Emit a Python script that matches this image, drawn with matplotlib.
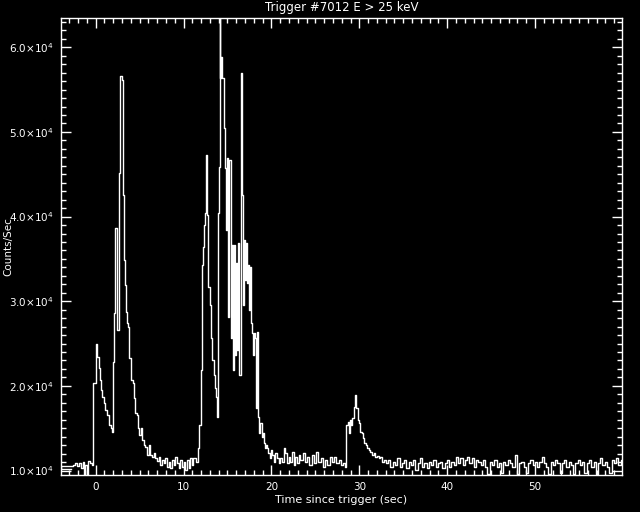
import matplotlib
matplotlib.use("Agg")
import matplotlib.pyplot as plt
from matplotlib.ticker import MultipleLocator, FuncFormatter

# ---- data: step left edges (s) and count rates (counts/s) ----
pre_t = [-2.85, -4.0, -2.54, -2.3, -2.1, -1.9, -1.7, -1.5, -1.35, -1.2, -1.0, -0.85, -0.65, -0.45]
pre_v = [10210, 10530, 10700, 10850, 10500, 10900, 10300, 10950, 9470, 10600, 9600, 11100, 10900, 10700]

p1_t = [-0.26, 0.05, 0.20, 0.39, 0.50, 0.62, 0.73, 0.92, 1.11, 1.30, 1.49, 1.72, 1.83, 1.94,
        2.06, 2.25, 2.40, 2.48, 2.63, 2.70, 2.82, 3.01, 3.08, 3.20, 3.31, 3.43, 3.61, 3.73,
        3.84, 3.99, 4.07, 4.22, 4.37, 4.49, 4.75, 4.87, 4.98, 5.13, 5.32, 5.44, 5.63, 5.82,
        6.01, 6.20, 6.39, 6.58, 6.77, 6.96, 7.15, 7.34]
p1_v = [20300, 24950, 23450, 22070, 20690, 19510, 18720, 17940, 17150, 16560, 15380, 14980, 14590, 22860,
        28570, 38610, 30930, 26600, 33100, 45110, 56610, 56140, 42550, 34870, 31920, 28770, 27390, 26990,
        23260, 22860, 20690, 20300, 18530, 16760, 16560, 14980, 14190, 14980, 13600, 13010, 12810, 11830,
        13010, 11830, 11630, 12030, 11440, 11160, 11630, 10650]

gap1_t = [7.53, 7.72, 7.91, 8.10, 8.29, 8.48, 8.67, 8.86, 9.05, 9.24, 9.43, 9.62, 9.81, 10.00,
          10.19, 10.38, 10.57, 10.76, 10.95, 11.13, 11.44]
gap1_v = [11240, 10850, 11440, 10460, 11040, 10260, 11240, 10650, 11630, 10850, 10260, 11240, 10460, 11040,
          10060, 11240, 10260, 11440, 10650, 11440, 11050]

p2_t = [11.59, 11.78, 11.93, 12.08, 12.24, 12.35, 12.46, 12.54, 12.65, 12.77, 12.96, 13.11, 13.22, 13.41,
        13.57, 13.68, 13.79, 13.91, 14.06, 14.10, 14.18, 14.25, 14.40, 14.56, 14.67, 14.79, 14.90, 15.05,
        15.20, 15.35, 15.46, 15.58, 15.69, 15.84, 15.96, 16.07, 16.18, 16.33, 16.49, 16.60, 16.71, 16.83,
        16.94, 17.06, 17.17, 17.29, 17.44, 17.55, 17.66, 17.82, 17.93, 18.05, 18.16, 18.27, 18.39, 18.50,
        18.61, 18.73, 18.88, 18.99, 19.11, 19.22, 19.33, 19.49, 19.64, 19.79, 19.94, 20.09, 20.25, 20.44,
        20.63, 20.82, 21.01, 21.20, 21.39, 21.58, 21.77, 21.96, 22.15, 22.34, 22.53, 22.72, 22.91, 23.10]
p2_v = [12620, 15380, 21870, 34280, 36440, 39000, 40390, 47280, 40190, 31720, 29550, 25620, 23060, 21280,
        19710, 18720, 16360, 40390, 45900, 63500, 56340, 58890, 56340, 50430, 45700, 38420, 46880, 28170,
        46720, 25620, 36640, 21870, 36640, 23650, 34480, 24240, 36840, 21280, 56930, 42550, 29550, 37230,
        32510, 36840, 32110, 34280, 28960, 34080, 27390, 26210, 23650, 26210, 25620, 17350, 26400, 16360,
        14390, 15570, 13990, 14390, 13210, 12620, 13010, 12620, 12030, 11440, 12420, 11830, 11040, 12030,
        11440, 10850, 11440, 11040, 12620, 12030, 10850, 11630, 11040, 12220, 10650, 11630, 10850, 11830]

gap2_t = [23.29, 23.55, 23.80, 24.06, 24.32, 24.57, 24.83, 25.09, 25.34, 25.60, 25.86, 26.11, 26.37,
          26.62, 26.88, 27.14, 27.39, 27.65, 27.91, 28.16, 28.40]
gap2_v = [11240, 12030, 11040, 11630, 10650, 11830, 10850, 12220, 11040, 11440, 10460, 11240, 10650,
          11630, 11040, 11630, 10850, 11240, 10650, 10850, 10460]

p3_t = [28.53, 28.68, 28.83, 28.98, 29.10, 29.21, 29.36, 29.51, 29.67, 29.82, 29.97, 30.12, 30.27, 30.43,
        30.58, 30.73, 30.88, 31.07, 31.26, 31.45, 31.64, 31.83, 32.02, 32.21, 32.40, 32.59, 32.78]
p3_v = [15380, 15770, 14390, 15970, 15380, 16160, 17540, 18920, 17350, 15970, 15570, 14590, 14390, 13800,
        13210, 13010, 12620, 12420, 12220, 11830, 12030, 11560, 11720, 11440, 11630, 11040, 11240]

tail_t = [33.04, 33.30, 33.55, 33.81, 34.07, 34.32, 34.58, 34.84, 35.09, 35.35, 35.61, 35.86, 36.12, 36.38,
          36.63, 36.89, 37.15, 37.40, 37.66, 37.92, 38.17, 38.43, 38.69, 38.94, 39.20, 39.46, 39.71, 39.97,
          40.23, 40.48, 40.74, 41.00, 41.25, 41.51, 41.77, 42.02, 42.28, 42.54, 42.79, 43.05, 43.31, 43.56,
          43.82, 44.08, 44.33, 44.59, 44.85, 45.10, 45.36, 45.62, 45.87, 46.13, 46.39, 46.64, 46.90, 47.16,
          47.41, 47.67, 47.93, 48.18, 48.44, 48.70, 48.95, 49.21, 49.47, 49.72, 49.98, 50.24, 50.50, 50.75,
          51.01, 51.27, 51.52, 51.78, 52.04, 52.29, 52.55, 52.81, 53.06, 53.32, 53.58, 53.83, 54.09, 54.35,
          54.60, 54.86, 55.12, 55.37, 55.63, 55.89, 56.14, 56.40, 56.66, 56.91, 57.17, 57.43, 57.68, 57.94,
          58.20, 58.45, 58.71, 58.97, 59.22, 59.48, 59.74, 60.00]
tail_v = [10850, 11240, 10460, 11040, 10650, 11440, 10460, 10850, 11240, 10260, 11040, 10650, 11240, 10060,
          10850, 11440, 10460, 10850, 10260, 11040, 10650, 11240, 10460, 10850, 11040, 10260, 10850, 11240,
          10460, 11040, 10650, 11630, 10850, 11440, 10650, 11240, 11630, 10850, 11440, 10460, 11240, 11040,
          10650, 11240, 10460, 9600, 11040, 10650, 11240, 10460, 10850, 9700, 11040, 10650, 11240, 10850,
          10460, 11830, 9600, 10850, 11040, 10460, 9650, 10850, 11240, 10650, 11040, 10460, 11040, 11630,
          10850, 10460, 9600, 11040, 10650, 11240, 10850, 9700, 10850, 11240, 10460, 11040, 10650, 9600,
          10850, 11240, 10650, 11040, 9650, 10850, 11240, 10460, 11040, 9600, 10850, 11440, 10650, 11040,
          10460, 9700, 11240, 10850, 11440, 10650, 11240, 11240]

t = pre_t + p1_t + gap1_t + p2_t + gap2_t + p3_t + tail_t
v = pre_v + p1_v + gap1_v + p2_v + gap2_v + p3_v + tail_v

title = "Trigger #7012 E > 25 keV"
xlabel = "Time since trigger (sec)"
ylabel = "Counts/Sec"
xlim = (-3.95, 59.9)

# ---- figure ----
fig = plt.figure(figsize=(6.4, 5.12), dpi=100, facecolor="black")
ax = fig.add_axes([61 / 640, 1 - 475 / 512, (622 - 61) / 640, (475 - 17.7) / 512])
ax.set_facecolor("black")

ax.plot(t, v, drawstyle="steps-post", color="white", lw=1.0)

ax.set_xlim(*xlim)
ax.set_ylim(min(v), max(v))

ax.xaxis.set_major_locator(MultipleLocator(10))
ax.xaxis.set_minor_locator(MultipleLocator(1))
ax.yaxis.set_major_locator(MultipleLocator(10000))
ax.yaxis.set_minor_locator(MultipleLocator(1000))
ax.yaxis.set_major_formatter(FuncFormatter(lambda val, pos: f"{val/1e4:.1f}$\\times$10$^{{4}}$"))

for side in ax.spines.values():
    side.set_color("white")
    side.set_linewidth(1.0)

ax.tick_params(which="both", direction="in", colors="white", top=True, right=True,
               labelsize=7.5, width=1.0)
ax.tick_params(which="major", length=7.5, pad=5)
ax.tick_params(which="minor", length=3.3)

ax.set_title(title, color="white", fontsize=8.5, pad=5)
ax.set_xlabel(xlabel, color="white", fontsize=8, labelpad=2)
ax.set_ylabel(ylabel, color="white", fontsize=7.5)
ax.yaxis.set_label_coords(-(61 - 13) / 561, 0.5)

fig.savefig("out.png", dpi=100, facecolor="black")
